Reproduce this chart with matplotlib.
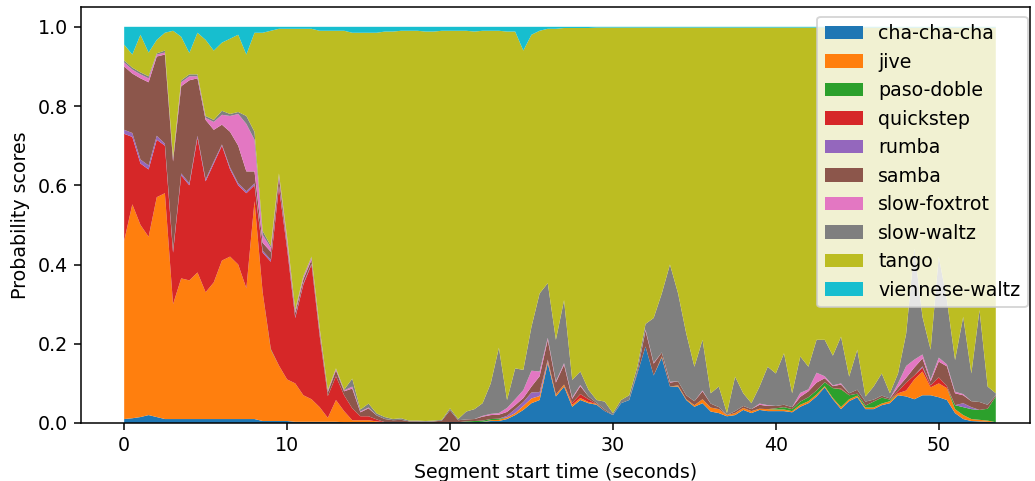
import numpy as np
import matplotlib
matplotlib.use('Agg')
import matplotlib.pyplot as plt

# segment start times (seconds), one every 0.5 s
seg_start = np.arange(0, 54, 0.5)

dances = ['cha-cha-cha', 'jive', 'paso-doble', 'quickstep', 'rumba', 'samba',
          'slow-foxtrot', 'slow-waltz', 'tango', 'viennese-waltz']

cha_cha_cha = [.010, .012, .015, .020, .015, .010, .010, .010, .010, .010,
               .010, .010, .010, .010, .010, .010, .010, .005, .005, .005,
               .005, .003, .003, .003, .003, .003, .003, .002, .002, .002,
               .002, .002, .002, .002, .002, .001, .001, .001, .001, .001,
               .002, .002, .002, .002, .003, .005, .005, .010, .020, .033,
               .050, .058, .151, .067, .092, .041, .058, .050, .046, .030,
               .020, .050, .058, .125, .193, .120, .165, .092, .092, .058,
               .041, .050, .029, .025, .017, .020, .033, .025, .033, .030,
               .030, .030, .027, .041, .050, .067, .090, .060, .035, .055,
               .065, .035, .035, .045, .050, .070, .067, .060, .070, .070,
               .065, .058, .025, .010, .005, .004, .003, .002]
jive = [.450, .540, .485, .450, .555, .570, .290, .355, .350, .370,
        .320, .345, .400, .410, .390, .330, .550, .325, .180, .140,
        .105, .097, .067, .057, .037, .010, .055, .028, .005, .005,
        .005, .002, 0, 0, 0, 0, 0, 0, 0, 0,
        0, 0, 0, 0, 0, .002, .003, .004, .005, .010,
        .012, .010, .005, .005, .005, .005, .005, .003, .002, 0,
        0, 0, 0, 0, 0, 0, .003, 0, .003, .002,
        .004, .010, .010, .010, .003, .005, .005, .005, .003, .005,
        .004, .004, .003, .005, .005, .005, .003, .003, .005, .005,
        .004, .004, .004, .004, .005, .005, .015, .050, .060, .020,
        .035, .030, .010, .010, .005, .004, .003, 0]
paso_doble = [0, 0, 0, 0, 0, 0, 0, 0, 0, 0,
              0, 0, 0, 0, 0, 0, 0, 0, .002, 0,
              0, 0, 0, 0, 0, 0, 0, 0, 0, 0,
              0, 0, 0, 0, 0, 0, 0, 0, 0, 0,
              0, 0, .002, .003, .003, .003, .003, 0, 0, 0,
              0, 0, 0, 0, 0, 0, 0, 0, 0, 0,
              0, 0, 0, 0, 0, 0, 0, 0, 0, 0,
              0, 0, 0, 0, 0, 0, 0, 0, 0, 0,
              .003, .006, .005, .008, .010, .010, .010, .025, .045, .010,
              .005, .005, .015, .015, .004, 0, 0, 0, 0, 0,
              0, 0, .010, .020, .025, .025, .030, .065]
quickstep = [.270, .170, .155, .170, .145, .120, .130, .260, .240, .340,
             .280, .300, .290, .220, .200, .240, .040, .100, .220, .450,
             .330, .165, .280, .340, .180, .055, .060, .040, .030, .010,
             .010, .005, 0, 0, 0, 0, 0, 0, 0, 0,
             0, 0, 0, 0, 0, 0, 0, 0, 0, 0,
             0, 0, 0, 0, 0, .005, .010, .007, 0, 0,
             0, 0, 0, 0, 0, 0, 0, 0, 0, 0,
             0, 0, 0, 0, 0, 0, 0, 0, 0, 0,
             0, 0, 0, 0, 0, 0, 0, 0, .002, 0,
             0, 0, 0, 0, 0, .005, .020, .010, .010, .005,
             .015, .005, 0, 0, 0, 0, 0, 0]
rumba = [.010, .010, .010, .010, .010, .005, .005, .005, .005, .005,
         .005, .005, .003, .005, .005, .005, .005, .005, .005, .005,
         .005, .003, .003, .002, .002, 0, 0, 0, 0, 0,
         0, 0, 0, 0, 0, 0, 0, 0, 0, 0,
         0, 0, 0, 0, 0, 0, 0, .004, .010, .010,
         .015, .010, .004, 0, 0, 0, 0, 0, 0, 0,
         0, 0, 0, 0, 0, 0, 0, 0, 0, 0,
         0, 0, 0, 0, 0, 0, 0, 0, 0, 0,
         0, 0, 0, 0, 0, 0, 0, 0, 0, 0,
         0, 0, 0, 0, 0, 0, 0, 0, .003, 0,
         0, 0, 0, .010, .005, 0, 0, 0]
samba = [.160, .150, .205, .210, .200, .225, .225, .220, .260, .145,
         .150, .080, .050, .090, .095, .050, .030, .020, .020, .020,
         .010, .010, .010, .010, .010, .010, .015, .010, .050, .010,
         .020, .010, .008, .005, .006, .003, .003, .002, .003, .005,
         .030, .005, .005, .005, .010, .010, .010, .010, .010, .010,
         .015, .040, .050, .030, .050, .010, .020, .007, .003, .004,
         0, 0, 0, .005, .040, .030, .010, .010, .010, .010,
         .010, .020, .010, .005, 0, .005, .005, .005, .010, .008,
         .006, .006, .005, .012, .015, .020, .010, .005, .010, .005,
         .010, .010, .005, .005, .003, .010, .012, .020, .020, .010,
         .040, .050, .030, .020, .015, .020, .010, .003]
slow_foxtrot = [.010, .010, .010, .010, .005, .005, .005, .010, .010, .005,
                .005, .020, .025, .040, .080, .120, .080, .020, .010, .005,
                .010, .005, .005, .005, .005, .003, .003, .002, .005, .002,
                .002, 0, 0, 0, 0, 0, 0, 0, 0, 0,
                0, 0, 0, 0, .002, .003, .004, .010, .015, .020,
                .040, .012, .005, .003, .004, .003, .003, 0, 0, 0,
                0, 0, 0, 0, .003, .002, 0, .002, 0, 0,
                0, .002, 0, 0, 0, 0, 0, 0, .003, .002,
                0, 0, 0, .010, .005, .025, .005, .002, .003, 0,
                0, 0, 0, 0, 0, .010, .030, .020, .010, .005,
                .010, .005, .004, .003, 0, 0, 0, 0]
slow_waltz = [.005, .005, .005, .005, .003, .005, .005, .005, .005, .005,
              .005, .005, .010, .005, .005, .020, .020, .010, .005, .005,
              .005, .003, .003, .003, .003, .002, .002, .002, .020, .005,
              .010, .005, .005, .003, .004, .002, .002, .002, .002, .002,
              .005, .003, .020, .025, .032, .077, .165, .020, .078, .051,
              .111, .197, .138, .105, .159, .045, .034, .017, .007, .020,
              .005, .008, .012, .012, .014, .113, .149, .296, .222, .156,
              .087, .128, .026, .052, .005, .087, .032, .015, .043, .097,
              .082, .130, .035, .092, .057, .083, .092, .075, .118, .042,
              .101, .013, .033, .056, .013, .025, .082, .280, .095, .075,
              .255, .162, .080, .195, .070, .232, .046, .005]
tango = [.040, .033, .095, .060, .034, .045, .320, .110, .054, .105,
         .192, .175, .172, .190, .195, .155, .250, .500, .543, .365,
         .525, .709, .624, .575, .750, .907, .852, .906, .873, .951,
         .936, .961, .973, .978, .978, .984, .984, .983, .982, .982,
         .953, .980, .961, .953, .940, .890, .800, .930, .850, .806,
         .737, .663, .642, .785, .687, .888, .867, .913, .940, .944,
         .973, .940, .928, .856, .748, .733, .671, .598, .671, .772,
         .856, .788, .923, .906, .973, .881, .923, .948, .906, .856,
         .873, .822, .923, .830, .856, .788, .788, .828, .780, .881,
         .813, .931, .906, .873, .923, .873, .772, .558, .730, .813,
         .578, .688, .839, .730, .873, .713, .906, .923]
viennese_waltz = [.045, .070, .020, .065, .033, .015, .010, .025, .066, .015,
                  .033, .060, .040, .030, .020, .070, .015, .015, .010, .005,
                  .005, .005, .005, .005, .010, .010, .010, .010, .015, .015,
                  .015, .015, .012, .012, .010, .010, .010, .012, .012, .010,
                  .010, .010, .010, .012, .010, .010, .010, .012, .012, .060,
                  .020, .010, .005, .005, .003, .003, .003, .003, .002, .002,
                  .002, .002, .002, .002, .002, .002, .002, .002, .002, .002,
                  .002, .002, .002, .002, .002, .002, .002, .002, .002, .002,
                  .002, .002, .002, .002, .002, .002, .002, .002, .002, .002,
                  .002, .002, .002, .002, .002, .002, .002, .002, .002, .002,
                  .002, .002, .002, .002, .002, .002, .002, .002]

scores = [cha_cha_cha, jive, paso_doble, quickstep, rumba, samba,
          slow_foxtrot, slow_waltz, tango, viennese_waltz]

dpi = 137
fig = plt.figure(figsize=(1035 / dpi, 481 / dpi), dpi=dpi)
ax = fig.add_axes([81 / 1035, 1 - 423 / 481, (1030 - 81) / 1035, (423 - 7) / 481])

ax.stackplot(seg_start, *scores, labels=dances)
ax.set_xlim(-2.65, 55.6)
ax.set_ylim(0, 1.05)
ax.set_xlabel('Segment start time (seconds)')
ax.set_ylabel('Probability scores')
ax.legend(loc='upper right', bbox_to_anchor=(1.008, 1.0))

fig.savefig('out.png', dpi=dpi)
